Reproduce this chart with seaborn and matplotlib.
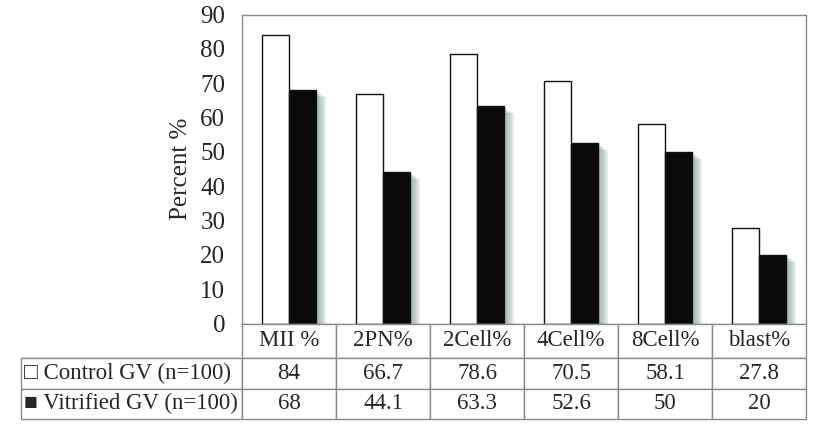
import pandas as pd
import seaborn as sns
import matplotlib.pyplot as plt
import matplotlib.patheffects as pe
from matplotlib.table import Table

stages = ["MII %", "2PN%", "2Cell%", "4Cell%", "8Cell%", "blast%"]
control = [84, 66.7, 78.6, 70.5, 58.1, 27.8]
vitrified = [68, 44.1, 63.3, 52.6, 50, 20]
control_label = "Control GV (n=100)"
vitrified_label = "Vitrified GV (n=100)"

sns.set_style("white")
plt.rcParams["font.family"] = ["Liberation Serif", "DejaVu Sans"]

df = pd.DataFrame({
    "stage": stages * 2,
    "value": control + vitrified,
    "group": ["Control"] * len(stages) + ["Vitrified"] * len(stages),
})

W, H = 822, 432
fig = plt.figure(figsize=(W / 100, H / 100), dpi=100)
ax = fig.add_axes([242 / W, 1 - 323.5 / H, 564 / W, 309 / H])

sns.barplot(data=df, x="stage", y="value", hue="group",
            palette={"Control": "white", "Vitrified": "#0a0a0a"},
            width=0.57, edgecolor="#111111", linewidth=1.0,
            legend=False, ax=ax)

# soft drop shadow to the right of the dark bars
shadow = [pe.SimplePatchShadow(offset=(o, -o * 0.7), shadow_rgbFace="#7f9696", alpha=0.2)
          for o in (1.5, 3, 4.5, 6, 7.5)]
for p in ax.patches:
    if p.get_facecolor()[0] < 0.5:
        p.set_path_effects(shadow + [pe.Normal()])

ax.set_xlim(-0.5, len(stages) - 0.5)
ax.set_ylim(0, 90)
ax.set_yticks(range(0, 91, 10))
ax.set_xticks([])
ax.set_xlabel("")
ax.set_ylabel("Percent %", fontsize=18, labelpad=6)
ax.tick_params(axis="y", length=0, pad=12, labelsize=18)
for s in ax.spines.values():
    s.set_color("#8a8a8a")
    s.set_linewidth(1.0)

# data table under the chart
tax = fig.add_axes([20.7 / W, 1 - 419 / H, (806 - 20.7) / W, (419 - 323.5) / H])
tax.axis("off")
tbl = Table(tax, bbox=[0, 0, 1, 1])
col_w = [221.3] + [94] * len(stages)
row_h = [34.2, 31, 30.3]
rows = [
    [""] + stages,
    ["\u25a1 " + control_label] + [f"{v:g}" for v in control],
    ["\u25a0 " + vitrified_label] + [f"{v:g}" for v in vitrified],
]
for r, row in enumerate(rows):
    for c, txt in enumerate(row):
        cell = tbl.add_cell(r, c, col_w[c], row_h[r], text=txt,
                            loc="left" if c == 0 else "center")
        cell.set_edgecolor("#8a8a8a")
        cell.set_linewidth(1.0)
        cell.get_text().set_fontsize(16.5)
        if c == 0:
            cell.PAD = 0.015
        if r == 0 and c == 0:
            cell.visible_edges = "B"
tbl.auto_set_font_size(False)
tax.add_table(tbl)

fig.savefig("out.png", dpi=100)
